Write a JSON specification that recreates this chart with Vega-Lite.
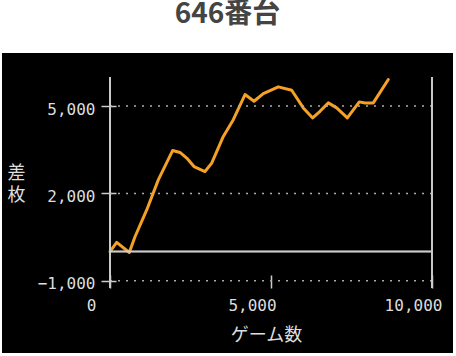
{
  "$schema": "https://vega.github.io/schema/vega-lite/v6.json",
  "width": 451,
  "height": 300,
  "autosize": {"type": "none"},
  "padding": {"left": 2, "top": 53, "right": 3, "bottom": 3},
  "background": "white",
  "view": {"fill": "black", "stroke": null},
  "title": {
    "text": "646番台",
    "font": "Noto Sans CJK JP",
    "fontSize": 28,
    "fontWeight": "bold",
    "color": "#444444",
    "anchor": "middle",
    "baseline": "alphabetic",
    "offset": 2
  },
  "datasets": {
    "series": [
      {"game": 0, "diff": 0},
      {"game": 208, "diff": 317},
      {"game": 599, "diff": -30},
      {"game": 776, "diff": 510},
      {"game": 1140, "diff": 1431},
      {"game": 1500, "diff": 2466},
      {"game": 1947, "diff": 3476},
      {"game": 2174, "diff": 3407},
      {"game": 2382, "diff": 3214},
      {"game": 2609, "diff": 2924},
      {"game": 2950, "diff": 2752},
      {"game": 3158, "diff": 3041},
      {"game": 3519, "diff": 3959},
      {"game": 3829, "diff": 4534},
      {"game": 4193, "diff": 5397},
      {"game": 4472, "diff": 5166},
      {"game": 4761, "diff": 5431},
      {"game": 5227, "diff": 5662},
      {"game": 5643, "diff": 5545},
      {"game": 6003, "diff": 4938},
      {"game": 6295, "diff": 4593},
      {"game": 6522, "diff": 4821},
      {"game": 6780, "diff": 5110},
      {"game": 7040, "diff": 4938},
      {"game": 7370, "diff": 4593},
      {"game": 7742, "diff": 5145},
      {"game": 7919, "diff": 5110},
      {"game": 8177, "diff": 5110},
      {"game": 8643, "diff": 5914}
    ],
    "grid": [
      {"level": -1000},
      {"level": 2000},
      {"level": 5000}
    ]
  },
  "layer": [
    {
      "data": {"name": "series"},
      "mark": {"type": "line", "color": "#f5a126", "strokeWidth": 3, "strokeJoin": "round", "strokeCap": "round"},
      "encoding": {
        "x": {
          "field": "game",
          "type": "quantitative",
          "scale": {"domain": [-3354, 10652], "nice": false, "zero": false},
          "axis": {
            "values": [0, 5000, 10000],
            "format": ",.0f",
            "orient": "bottom",
            "offset": -78,
            "domain": false,
            "grid": false,
            "ticks": true,
            "tickSize": 13,
            "tickColor": "#cccccc",
            "tickWidth": 1.5,
            "labelFont": "DejaVu Sans Mono",
            "labelFontSize": 16,
            "labelColor": "#dddddd",
            "labelPadding": 9,
            "labelOffset": -19,
            "labelFlush": false,
            "labelOverlap": false,
            "title": "ゲーム数",
            "titleFont": "Noto Sans CJK JP",
            "titleFontSize": 18,
            "titleFontWeight": "normal",
            "titleColor": "#dddddd",
            "titleX": 264,
            "titleY": 60,
            "titleBaseline": "middle",
            "titleAlign": "center"
          }
        },
        "y": {
          "field": "diff",
          "type": "quantitative",
          "scale": {"domain": [-3485, 6825], "nice": false, "zero": false},
          "axis": {
            "values": [-1000, 2000, 5000],
            "format": ",.0f",
            "orient": "left",
            "offset": -114,
            "domain": false,
            "grid": false,
            "tickSize": 15,
            "tickColor": "#cccccc",
            "tickWidth": 1.5,
            "labelFont": "DejaVu Sans Mono",
            "labelFontSize": 16,
            "labelColor": "#dddddd",
            "labelPadding": 6,
            "labelOffset": 3,
            "labelFlush": false,
            "labelOverlap": false,
            "title": ["差", "枚"],
            "titleFont": "Noto Sans CJK JP",
            "titleFontSize": 18,
            "titleFontWeight": "normal",
            "titleColor": "#dddddd",
            "titleAngle": 0,
            "titleX": -100,
            "titleY": 120,
            "titleAlign": "center",
            "titleBaseline": "middle",
            "titleLineHeight": 22
          }
        }
      }
    },
    {
      "data": {"name": "grid"},
      "mark": {"type": "rule", "color": "#aaaaaa", "strokeWidth": 1.5, "strokeDash": [2, 6]},
      "encoding": {
        "y": {"field": "level", "type": "quantitative"},
        "x": {"datum": 0, "type": "quantitative"},
        "x2": {"datum": 10000}
      }
    },
    {
      "data": {"name": "grid"},
      "mark": {"type": "rule", "color": "#cccccc", "strokeWidth": 1.5},
      "encoding": {
        "y": {"datum": 0, "type": "quantitative"},
        "x": {"datum": 0, "type": "quantitative"},
        "x2": {"datum": 10000}
      }
    },
    {
      "data": {"name": "grid"},
      "mark": {"type": "rule", "color": "#cccccc", "strokeWidth": 1.5},
      "encoding": {
        "x": {"datum": 0, "type": "quantitative"},
        "y": {"datum": -1250, "type": "quantitative"},
        "y2": {"datum": 6000}
      }
    },
    {
      "data": {"name": "grid"},
      "mark": {"type": "rule", "color": "#cccccc", "strokeWidth": 1.5},
      "encoding": {
        "x": {"datum": 10000, "type": "quantitative"},
        "y": {"datum": -1250, "type": "quantitative"},
        "y2": {"datum": 6000}
      }
    }
  ]
}
